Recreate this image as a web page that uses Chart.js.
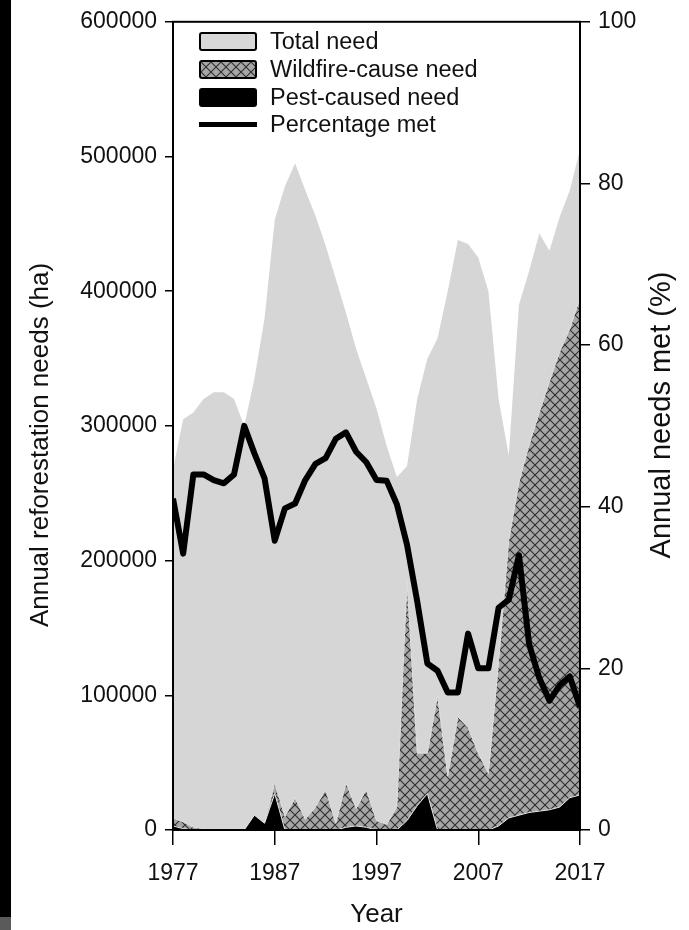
<!DOCTYPE html>
<html>
<head>
<meta charset="utf-8">
<script src="https://cdn.jsdelivr.net/npm/chart.js@4.4.1/dist/chart.umd.min.js"></script>
<style>
  html, body { margin: 0; padding: 0; background: #fff; }
  #wrap { position: relative; width: 689px; height: 930px; }
  #edge { position: absolute; left: 0; top: 0; width: 11px; height: 917px; background: #000; }
  #edge2 { position: absolute; left: 0; top: 917px; width: 11px; height: 13px; background: #5a5a5a; }
  #legend { position: absolute; left: 199px; top: 28px; font-family: "Liberation Sans", Arial, sans-serif; font-size: 23.5px; color: #111; }
  .row { display: flex; align-items: center; height: 27.7px; }
  .box { width: 54px; height: 15px; border: 2px solid #000; border-radius: 3px; margin-right: 13px; }
  .line { width: 58px; height: 5px; background: #000; margin-right: 13px; }
</style>
</head>
<body>
<div id="wrap">
  <canvas id="c" width="689" height="930"></canvas>
  <div id="edge"></div><div id="edge2"></div>
  <div id="legend"></div>
</div>
<script>
var years = [1977, 1978, 1979, 1980, 1981, 1982, 1983, 1984, 1985, 1986,
             1987, 1988, 1989, 1990, 1991, 1992, 1993, 1994, 1995, 1996,
             1997, 1998, 1999, 2000, 2001, 2002, 2003, 2004, 2005, 2006,
             2007, 2008, 2009, 2010, 2011, 2012, 2013, 2014, 2015, 2016, 2017];

// hectares
var totalNeed = [268000, 305000, 310000, 320000, 325000, 325000, 320000, 300000, 335000, 380000,
                 453000, 478000, 495000, 475000, 456000, 434000, 409000, 384000, 357000, 335000,
                 313000, 285000, 262000, 270000, 320000, 350000, 365000, 400000, 438000, 435000,
                 425000, 400000, 320000, 278000, 390000, 415000, 443000, 430000, 455000, 475000, 505000];

var wildfireNeed = [9000, 6000, 2000, 1000, 500, 500, 500, 500, 3000, 5000,
                    35000, 10000, 24000, 8000, 17000, 30000, 5000, 35000, 16000, 30000,
                    7000, 4000, 17000, 185000, 57000, 57000, 100000, 40000, 84000, 76000,
                    57000, 42000, 125000, 215000, 258000, 286000, 310000, 333000, 355000, 372000, 395000];

var pestNeed = [3000, 1000, 0, 0, 0, 0, 0, 0, 11000, 5000,
                27000, 0, 0, 0, 0, 0, 0, 2000, 3000, 2000,
                0, 0, 0, 7000, 18000, 27000, 0, 0, 0, 0,
                0, 0, 3000, 9000, 11000, 13000, 14000, 15000, 17000, 24000, 26000];

// percent
var pctMet = [41, 34.2, 44, 44, 43.3, 42.9, 44, 50, 46.6, 43.5,
              35.8, 39.8, 40.4, 43.3, 45.3, 46, 48.4, 49.2, 46.8, 45.5,
              43.3, 43.2, 40.3, 35.3, 28.3, 20.6, 19.7, 17, 17, 24.3,
              20, 20, 27.5, 28.5, 34, 23, 18.8, 16, 17.9, 19, 15.2];

var xTicks = [1977, 1987, 1997, 2007, 2017];
var leftTitle = 'Annual reforestation needs (ha)';
var rightTitle = 'Annual needs met (%)';
var FONT = '"Liberation Sans", Arial, sans-serif';

// crosshatch fill
function makeHatch() {
  var p = document.createElement('canvas');
  p.width = 10; p.height = 10;
  var g = p.getContext('2d');
  g.fillStyle = '#a6a6a6';
  g.fillRect(0, 0, 10, 10);
  g.strokeStyle = '#2e2e2e';
  g.lineWidth = 1.1;
  g.beginPath();
  g.moveTo(0, 0); g.lineTo(10, 10);
  g.moveTo(10, 0); g.lineTo(0, 10);
  g.stroke();
  return p;
}
var hatchCanvas = makeHatch();
var ctx = document.getElementById('c').getContext('2d');
var hatch = ctx.createPattern(hatchCanvas, 'repeat');

// html legend
var legendItems = [
  { label: 'Total need', kind: 'box', bg: '#d8d8d8' },
  { label: 'Wildfire-cause need', kind: 'box', bg: 'url(' + hatchCanvas.toDataURL() + ')' },
  { label: 'Pest-caused need', kind: 'box', bg: '#000' },
  { label: 'Percentage met', kind: 'line' }
];
var lg = document.getElementById('legend');
legendItems.forEach(function (it) {
  var row = document.createElement('div');
  row.className = 'row';
  var sw = document.createElement('div');
  sw.className = it.kind;
  if (it.kind === 'box') sw.style.background = it.bg;
  var tx = document.createElement('span');
  tx.textContent = it.label;
  row.appendChild(sw); row.appendChild(tx);
  lg.appendChild(row);
});

function vTitle(c, text, x, y, size) {
  c.save();
  c.translate(x, y);
  c.rotate(-Math.PI / 2);
  c.font = size + 'px ' + FONT;
  c.fillStyle = '#111';
  c.textAlign = 'center';
  c.textBaseline = 'middle';
  c.fillText(text, 0, 0);
  c.restore();
}

var framePlugin = {
  id: 'frame',
  afterDatasetsDraw: function (chart) {
    var a = chart.chartArea, c = chart.ctx;
    c.save();
    c.strokeStyle = '#000';
    c.lineWidth = 2;
    c.strokeRect(a.left, a.top, a.right - a.left, a.bottom - a.top);
    c.restore();
  },
  afterDraw: function (chart) {
    vTitle(chart.ctx, leftTitle, 41, 445, 26);
    vTitle(chart.ctx, rightTitle, 662, 415, 29);
  }
};

new Chart(ctx, {
  type: 'line',
  plugins: [framePlugin],
  data: {
    labels: years,
    datasets: [
      { label: 'Percentage met', data: pctMet, yAxisID: 'y1', borderColor: '#000', borderWidth: 6,
        borderJoinStyle: 'round', borderCapStyle: 'butt', pointRadius: 0, fill: false, tension: 0, order: 0 },
      { label: 'Pest-caused need', data: pestNeed, yAxisID: 'y', backgroundColor: '#000', borderColor: '#e6e6e6',
        borderWidth: 1, pointRadius: 0, fill: 'origin', tension: 0, order: 1 },
      { label: 'Wildfire-cause need', data: wildfireNeed, yAxisID: 'y', backgroundColor: hatch, borderColor: '#e0e0e0',
        borderWidth: 1, pointRadius: 0, fill: 'origin', tension: 0, order: 2 },
      { label: 'Total need', data: totalNeed, yAxisID: 'y', backgroundColor: '#d6d6d6', borderWidth: 0,
        pointRadius: 0, fill: 'origin', tension: 0, order: 3 }
    ]
  },
  options: {
    responsive: false,
    animation: false,
    layout: { padding: { top: 18, left: 0, right: 0, bottom: 0 } },
    plugins: { legend: { display: false }, tooltip: { enabled: false } },
    scales: {
      x: {
        type: 'linear', min: 1977, max: 2017, offset: false,
        afterBuildTicks: function (s) { s.ticks = xTicks.map(function (v) { return { value: v }; }); },
        afterFit: function (s) { s.height = 100; },
        grid: { drawOnChartArea: false, drawTicks: true, tickLength: 15, color: '#000', lineWidth: 1.5 },
        border: { display: true, color: '#000', width: 2 },
        ticks: { color: '#111', padding: 15, font: { family: FONT, size: 23 }, maxRotation: 0,
                 callback: function (v) { return String(v); } },
        title: { display: true, text: 'Year', color: '#111', font: { family: FONT, size: 26 },
                 padding: { top: 0, bottom: 0 } }
      },
      y: {
        position: 'left', min: 0, max: 600000,
        afterFit: function (s) { s.width = 173; },
        grid: { drawOnChartArea: false, drawTicks: true, tickLength: 8, color: '#000', lineWidth: 1.5 },
        border: { display: true, color: '#000', width: 2 },
        ticks: { stepSize: 100000, color: '#111', padding: 8, font: { family: FONT, size: 23 },
                 callback: function (v) { return String(v); } }
      },
      y1: {
        position: 'right', min: 0, max: 100,
        afterFit: function (s) { s.width = 109; },
        grid: { drawOnChartArea: false, drawTicks: true, tickLength: 10, color: '#000', lineWidth: 1.5 },
        border: { display: true, color: '#000', width: 2 },
        ticks: { stepSize: 20, color: '#111', padding: 8, font: { family: FONT, size: 23 } }
      }
    }
  }
});
</script>
</body>
</html>
